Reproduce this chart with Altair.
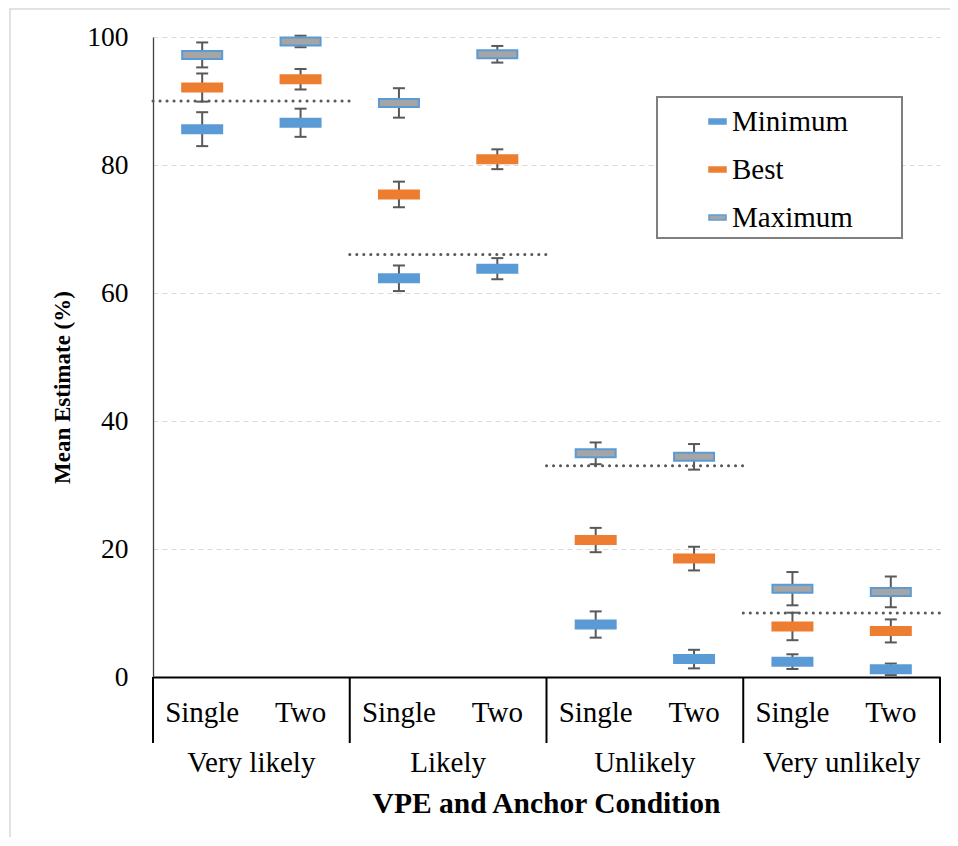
import altair as alt
import pandas as pd

groups = ["Very likely", "Likely", "Unlikely", "Very unlikely"]
conditions = ["Single", "Two"]
series = ["Minimum", "Best", "Maximum"]

# order: VL-Single, VL-Two, L-Single, L-Two, U-Single, U-Two, VU-Single, VU-Two
min_vals = [85.6, 86.6, 62.3, 63.8, 8.2, 2.8, 2.4, 1.2]
min_err = [2.65, 2.2, 2.0, 1.65, 2.05, 1.45, 1.15, 0.9]
best_vals = [92.1, 93.4, 75.4, 80.9, 21.4, 18.5, 7.9, 7.2]
best_err = [2.2, 1.6, 2.0, 1.55, 1.9, 1.85, 2.15, 1.8]
max_vals = [97.2, 99.3, 89.7, 97.3, 34.95, 34.4, 13.8, 13.3]
max_err = [1.95, 0.9, 2.3, 1.3, 1.7, 2.0, 2.6, 2.4]
ref_vals = [90, 66, 33, 10]

fills = ["#5B9BD5", "#ED7D31", "#A5A5A5"]
strokes = ["#5B9BD5", "#ED7D31", "#5B9BD5"]

rows = []
for s, vals, errs in zip(series, [min_vals, best_vals, max_vals], [min_err, best_err, max_err]):
    k = 0
    for gi, g in enumerate(groups):
        for ci, c in enumerate(conditions):
            rows.append({"series": s, "group": g, "cond": c, "pos": gi * 2 + ci + 0.5,
                         "value": vals[k], "err": errs[k]})
            k += 1
df = pd.DataFrame(rows)

cond_df = pd.DataFrame([{"pos": gi * 2 + ci + 0.5, "label": c}
                        for gi, g in enumerate(groups) for ci, c in enumerate(conditions)])
group_df = pd.DataFrame([{"pos": gi * 2 + 1, "label": g} for gi, g in enumerate(groups)])
sep_df = pd.DataFrame({"pos": [gi * 2 for gi in range(len(groups) + 1)]})
ref_df = pd.DataFrame([{"x0": gi * 2, "x1": gi * 2 + 2, "ref": r} for gi, r in enumerate(ref_vals)])
one_df = pd.DataFrame({"k": [0]})

W, H = 787, 640
SERIF = "Liberation Serif"

xs = alt.Scale(domain=[0, 8], nice=False, zero=False)
ys = alt.Scale(domain=[0, 100], nice=False)

X = alt.X("pos:Q", scale=xs, axis=alt.Axis(labels=False, ticks=False, grid=False, title=None,
                                            domainColor="#000000", domainWidth=2))
Y = alt.Y("value:Q", scale=ys, axis=alt.Axis(
    values=[0, 20, 40, 60, 80, 100], title="Mean Estimate (%)",
    titleFont=SERIF, titleFontSize=23, titleFontWeight="bold", titleColor="#000000",
    titleAngle=270, titleX=-91, titleY=350, titleAlign="center", titleBaseline="middle",
    labelFont=SERIF, labelFontSize=27.5, labelColor="#000000", labelPadding=25,
    ticks=False, tickSize=0, domainColor="#404040", domainWidth=1.3,
    grid=True, gridColor="#D9D9D9", gridDash=[5, 4], gridWidth=1))

base = alt.Chart(df)

err_rule = base.mark_rule(color="#595959", strokeWidth=2).transform_calculate(
    low="datum.value - datum.err", high="datum.value + datum.err"
).encode(x=X, y=alt.Y("low:Q", scale=ys), y2="high:Q")

caps = base.mark_tick(orient="horizontal", size=12, thickness=2, color="#595959",
                      opacity=1).transform_calculate(
    low="datum.value - datum.err", high="datum.value + datum.err"
).transform_fold(["low", "high"], as_=["end", "yv"]).encode(
    x=alt.X("pos:Q", scale=xs), y=alt.Y("yv:Q", scale=ys))

leg = alt.Legend(title=None, orient="none", legendX=504, legendY=60,
                 labelFont=SERIF, labelFontSize=29, labelColor="#000000", labelLimit=400,
                 symbolType="M-1,-0.28H1V0.28H-1Z", symbolSize=289, symbolStrokeWidth=1.5,
                 symbolOffset=36, labelOffset=0, rowPadding=18, padding=10)

boxes = base.mark_tick(orient="horizontal", size=40, thickness=8, filled=True, strokeWidth=2,
                       opacity=1).encode(
    x=X, y=Y,
    color=alt.Color("series:N", sort=series, scale=alt.Scale(domain=series, range=fills), legend=leg),
    stroke=alt.Stroke("series:N", sort=series, scale=alt.Scale(domain=series, range=strokes), legend=leg),
)

# legend frame (decorative box behind the legend entries)
legend_box = alt.Chart(one_df).mark_rect(fill="#FFFFFF", stroke="#7F7F7F", strokeWidth=2).encode(
    x=alt.value(504), x2=alt.value(749), y=alt.value(60), y2=alt.value(201))

refs = alt.Chart(ref_df).mark_rule(color="#595959", strokeWidth=3, strokeDash=[0.1, 6.9],
                                   strokeCap="round").encode(
    x=alt.X("x0:Q", scale=xs), x2="x1:Q", y=alt.Y("ref:Q", scale=ys))

seps = alt.Chart(sep_df).mark_rule(color="#000000", strokeWidth=2).encode(
    x=alt.X("pos:Q", scale=xs), y=alt.datum(0, scale=ys), y2=alt.value(743 - 37))

cond_text = alt.Chart(cond_df).mark_text(font=SERIF, fontSize=29, color="#000000",
                                         baseline="alphabetic", align="center").encode(
    x=alt.X("pos:Q", scale=xs), y=alt.value(722 - 37), text="label:N")

group_text = alt.Chart(group_df).mark_text(font=SERIF, fontSize=29, color="#000000",
                                           baseline="alphabetic", align="center").encode(
    x=alt.X("pos:Q", scale=xs), y=alt.value(772 - 37), text="label:N")

xtitle = alt.Chart(one_df).mark_text(font=SERIF, fontSize=29.5, fontWeight="bold", color="#000000",
                                     baseline="alphabetic", align="center").encode(
    x=alt.datum(4, scale=xs), y=alt.value(813 - 37), text=alt.value("VPE and Anchor Condition"))

frame_left = alt.Chart(one_df).mark_rule(color="#D9D9D9", strokeWidth=1.5).encode(
    x=alt.value(-143), y=alt.value(-29), y2=alt.value(800))
frame_top = alt.Chart(one_df).mark_rule(color="#D9D9D9", strokeWidth=1.5).encode(
    x=alt.value(-143), x2=alt.value(797), y=alt.value(-28))

chart = alt.layer(
    frame_left, frame_top, err_rule, caps, boxes, refs, legend_box, seps, cond_text, group_text, xtitle
).properties(
    width=W, height=H,
    autosize=alt.AutoSizeParams(type="none"),
    padding={"left": 145, "top": 29, "right": 10, "bottom": 160},
).configure_view(stroke=None)

chart.save("out.html", embed_options={"renderer": "svg", "actions": False})
